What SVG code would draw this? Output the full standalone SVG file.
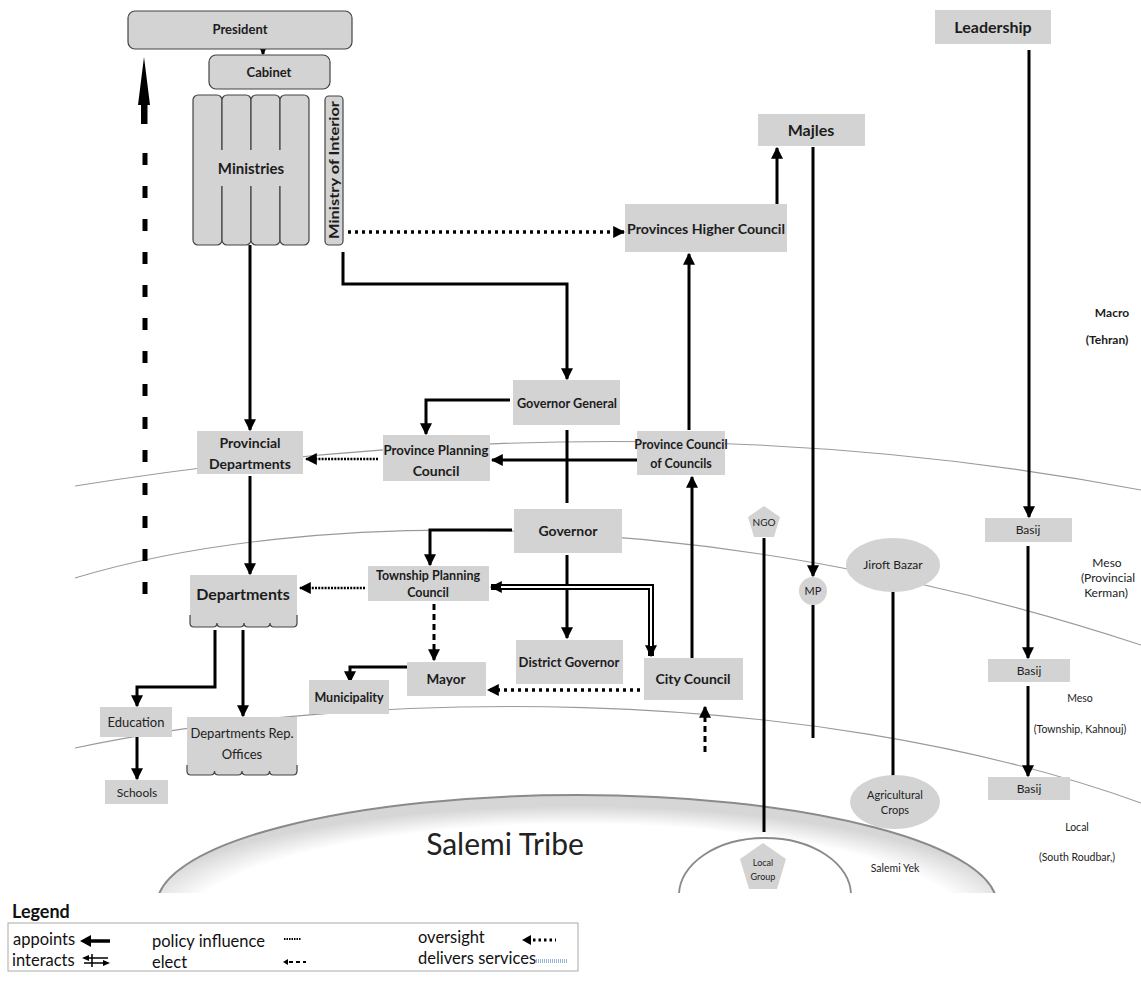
<svg xmlns="http://www.w3.org/2000/svg" width="1141" height="981" viewBox="0 0 1141 981">
  <defs>
    <marker id="ah" viewBox="0 0 10 10" refX="9" refY="5" markerWidth="12" markerHeight="12" markerUnits="userSpaceOnUse" orient="auto-start-reverse">
      <path d="M0,0 L10,5 L0,10 z" fill="#000"/>
    </marker>
    <marker id="ahs" viewBox="0 0 10 10" refX="9" refY="5" markerWidth="9" markerHeight="9" markerUnits="userSpaceOnUse" orient="auto">
      <path d="M0,0 L10,5 L0,10 z" fill="#000"/>
    </marker>
    <radialGradient id="tribe" cx="0.5" cy="0.6" r="0.55">
      <stop offset="0.85" stop-color="#ffffff"/>
      <stop offset="1" stop-color="#d6d6d6"/>
    </radialGradient>
    <style>
      .box { fill: #d3d3d3; }
      .rbox { fill: #d3d3d3; stroke: #444; stroke-width: 1.2; }
      .t { font-family: Lato, "Liberation Sans", sans-serif; font-weight: 700; fill: #1c1c1c; text-anchor: middle; }
      .r { font-family: Lato, "Liberation Sans", sans-serif; font-weight: 400; fill: #222; text-anchor: middle; }
      .lg { font-family: Lato, "Liberation Sans", sans-serif; font-weight: 400; fill: #111; font-size: 16.5px; }
      .arc { fill: none; stroke: #9a9a9a; stroke-width: 1.1; }
      .c { fill: none; stroke: #000; stroke-width: 3; }
      .dot { fill: none; stroke: #000; stroke-width: 3.5; stroke-dasharray: 3 4; }
      .pol { fill: none; stroke: #000; stroke-width: 2.5; stroke-dasharray: 2 1.2; }
      .dash { fill: none; stroke: #000; stroke-width: 3; stroke-dasharray: 6 4; }
      .tab { fill: #d3d3d3; stroke: #444; stroke-width: 1.2; }
    </style>
  </defs>

  <rect width="1141" height="981" fill="#fff"/>

  <!-- level boundaries -->
  <g id="levels">
    <path class="arc" d="M75,486 Q640,395 1141,490"/>
    <path class="arc" d="M75,578 C300,510 700,500 1141,645"/>
    <path class="arc" d="M75,748 C350,690 800,680 1141,803"/>
  </g>

  <!-- tribe base -->
  <g id="salemi-tribe">
    <clipPath id="cut"><rect x="0" y="0" width="1141" height="893"/></clipPath>
    <g clip-path="url(#cut)">
      <ellipse cx="577" cy="905" rx="420" ry="110" fill="url(#tribe)" stroke="#8a8a8a" stroke-width="2"/>
      <ellipse cx="765" cy="895" rx="86" ry="57" fill="#fff" stroke="#8a8a8a" stroke-width="1.8"/>
    </g>
    <text class="r" x="505" y="855" font-size="30" fill="#111">Salemi Tribe</text>
    <text class="r" x="895" y="872" font-size="10.5">Salemi Yek</text>
  </g>

  <!-- connectors -->
  <g id="connectors">
    <path class="c" stroke-width="2" d="M263,40 V54" marker-end="url(#ahs)"/>
    <path class="c" d="M250,245 V430" marker-end="url(#ah)"/>
    <path class="c" d="M343,252 V284 H567 V379" marker-end="url(#ah)"/>
    <path class="c" d="M510,400 H426 V434" marker-end="url(#ah)"/>
    <path class="c" d="M637,460 H492" marker-end="url(#ah)"/>
    <path class="c" d="M567,430 V503"/>
    <path class="c" d="M689,430 V254" marker-end="url(#ah)"/>
    <path class="c" d="M777,204 V148" marker-end="url(#ah)"/>
    <path class="c" stroke-width="2.5" d="M813,147 V576" marker-end="url(#ah)"/>
    <path class="c" stroke-width="2" d="M813,605 V738"/>
    <path class="c" d="M512,530 H430 V565" marker-end="url(#ah)"/>
    <path class="c" d="M567,555 V638" marker-end="url(#ah)"/>
    <path class="c" d="M692,658 V477" marker-end="url(#ah)"/>
    <path class="c" stroke-width="2.5" d="M407,667 H350 V682" marker-end="url(#ah)"/>
    <path class="c" d="M250,476 V574" marker-end="url(#ah)"/>
    <path class="c" d="M215,630 V687 H137 V706" marker-end="url(#ah)"/>
    <path class="c" d="M243,630 V716" marker-end="url(#ah)"/>
    <path class="c" d="M137,737 V779" marker-end="url(#ah)"/>
    <path class="c" stroke-width="2.5" d="M1029,50 V517" marker-end="url(#ah)"/>
    <path class="c" stroke-width="2.5" d="M1028,546 V658" marker-end="url(#ah)"/>
    <path class="c" stroke-width="2.5" d="M1028,686 V776" marker-end="url(#ah)"/>
    <path class="c" stroke-width="2.5" d="M764,538 V832"/>
    <path class="c" stroke-width="4" d="M893,592 V782"/>
    <!-- oversight / policy / elect -->
    <path class="dot" d="M348,232 H624" marker-end="url(#ah)"/>
    <path class="pol" d="M378,459 H306" marker-end="url(#ah)"/>
    <path class="pol" d="M365,588 H300" marker-end="url(#ah)"/>
    <path class="dash" stroke-width="2.5" stroke-dasharray="4 2" d="M434,604 V660" marker-end="url(#ah)"/>
    <path class="dot" d="M640,690 H488" marker-end="url(#ah)"/>
    <path class="dash" d="M705,752 V707" marker-end="url(#ah)"/>
    <path d="M145,153 V612" fill="none" stroke="#000" stroke-width="5" stroke-dasharray="12 21"/>
    <polygon points="144,57 150,105 147.5,105 147.5,124 141,124 141,105 138,105" fill="#000"/>
    <!-- interacts: township planning council / city council -->
    <path d="M651,656 V587 H491" fill="none" stroke="#000" stroke-width="6" marker-start="url(#ah)" marker-end="url(#ah)"/>
    <path d="M651,646 V587 H501" fill="none" stroke="#fff" stroke-width="2"/>
  </g>

  <!-- national level -->
  <g id="president">
    <rect class="rbox" x="128" y="11" width="224" height="38" rx="7"/>
    <text class="t" x="240" y="34" font-size="13">President</text>
  </g>
  <g id="cabinet">
    <rect class="rbox" x="209" y="55" width="121" height="34" rx="7"/>
    <text class="t" x="269" y="77" font-size="13">Cabinet</text>
  </g>
  <g id="ministries">
    <rect class="rbox" x="193" y="95" width="29" height="150" rx="5"/>
    <rect class="rbox" x="222" y="95" width="29" height="150" rx="5"/>
    <rect class="rbox" x="251" y="95" width="29" height="150" rx="5"/>
    <rect class="rbox" x="280" y="95" width="29" height="150" rx="5"/>
    <rect x="195" y="150" width="112" height="36" fill="#d3d3d3"/>
    <text class="t" x="251" y="174" font-size="15">Ministries</text>
  </g>
  <g id="ministry-of-interior">
    <rect class="rbox" x="325" y="96" width="18" height="149" rx="4"/>
    <text class="t" transform="translate(339,170) rotate(-90)" font-size="14" textLength="138" lengthAdjust="spacingAndGlyphs">Ministry of Interior</text>
  </g>
  <g id="provinces-higher-council">
    <rect class="box" x="625" y="204" width="162" height="48"/>
    <text class="t" x="706" y="234" font-size="14" textLength="158" lengthAdjust="spacingAndGlyphs">Provinces Higher Council</text>
  </g>
  <g id="majles">
    <rect class="box" x="758" y="114" width="107" height="32"/>
    <text class="t" x="811" y="136" font-size="16">Majles</text>
  </g>
  <g id="leadership">
    <rect class="box" x="935" y="10" width="116" height="34"/>
    <text class="t" x="993" y="33" font-size="16">Leadership</text>
  </g>

  <!-- provincial level -->
  <g id="governor-general">
    <rect class="box" x="513" y="380" width="107" height="45"/>
    <text class="t" x="567" y="408" font-size="14" textLength="100" lengthAdjust="spacingAndGlyphs">Governor General</text>
  </g>
  <g id="province-planning-council">
    <rect class="box" x="383" y="435" width="107" height="46"/>
    <text class="t" x="436" y="455" font-size="14" textLength="105" lengthAdjust="spacingAndGlyphs">Province Planning</text>
    <text class="t" x="436" y="476" font-size="14">Council</text>
  </g>
  <g id="provincial-departments">
    <rect class="box" x="197" y="431" width="106" height="43"/>
    <text class="t" x="250" y="448" font-size="14">Provincial</text>
    <text class="t" x="250" y="469" font-size="14">Departments</text>
  </g>
  <g id="province-council-of-councils">
    <rect class="box" x="637" y="431" width="88" height="44"/>
    <text class="t" x="681" y="449" font-size="12.5">Province Council</text>
    <text class="t" x="681" y="468" font-size="12.5">of Councils</text>
  </g>

  <!-- township level -->
  <g id="governor">
    <rect class="box" x="514" y="509" width="108" height="44"/>
    <text class="t" x="568" y="536" font-size="14">Governor</text>
  </g>
  <g id="township-planning-council">
    <rect class="box" x="368" y="566" width="121" height="35"/>
    <text class="t" x="428" y="580" font-size="12.5">Township Planning</text>
    <text class="t" x="428" y="597" font-size="12.5">Council</text>
  </g>
  <g id="departments">
    <rect class="box" x="190" y="575" width="107" height="43"/>
    <path class="tab" d="M190,615 v8 q0,4 4,4 h19 q4,0 4,-4 q0,4 4,4 h19 q4,0 4,-4 q0,4 4,4 h18 q4,0 4,-4 q0,4 4,4 h19 q4,0 4,-4 v-8"/>
    <rect x="191" y="612" width="105" height="10" fill="#d3d3d3"/>
    <text class="t" x="243" y="600" font-size="16">Departments</text>
  </g>
  <g id="district-governor">
    <rect class="box" x="516" y="640" width="107" height="44"/>
    <text class="t" x="569" y="667" font-size="13">District Governor</text>
  </g>
  <g id="city-council">
    <rect class="box" x="644" y="658" width="99" height="42"/>
    <text class="t" x="693" y="684" font-size="14">City Council</text>
  </g>
  <g id="mayor">
    <rect class="box" x="407" y="662" width="79" height="34"/>
    <text class="t" x="446" y="684" font-size="13.5">Mayor</text>
  </g>
  <g id="municipality">
    <rect class="box" x="309" y="680" width="80" height="34"/>
    <text class="t" x="349" y="702" font-size="12.5">Municipality</text>
  </g>

  <!-- local level -->
  <g id="education">
    <rect class="box" x="100" y="707" width="72" height="30"/>
    <text class="r" x="136" y="727" font-size="13">Education</text>
  </g>
  <g id="schools">
    <rect class="box" x="105" y="780" width="63" height="24"/>
    <text class="r" x="137" y="797" font-size="12">Schools</text>
  </g>
  <g id="departments-rep-offices">
    <rect class="box" x="187" y="717" width="110" height="52"/>
    <path class="tab" d="M187,765 v6 q0,4 4,4 h19.5 q4,0 4,-4 q0,4 4,4 h19.5 q4,0 4,-4 q0,4 4,4 h19.5 q4,0 4,-4 q0,4 4,4 h19.5 q4,0 4,-4 v-6"/>
    <rect x="188" y="762" width="108" height="9" fill="#d3d3d3"/>
    <text class="r" x="242" y="738" font-size="13">Departments Rep.</text>
    <text class="r" x="242" y="759" font-size="13">Offices</text>
  </g>

  <!-- basij chain -->
  <g id="basij-provincial">
    <rect class="box" x="985" y="518" width="87" height="24"/>
    <text class="r" x="1028" y="534" font-size="12">Basij</text>
  </g>
  <g id="basij-township">
    <rect class="box" x="988" y="659" width="82" height="23"/>
    <text class="r" x="1029" y="675" font-size="12">Basij</text>
  </g>
  <g id="basij-local">
    <rect class="box" x="988" y="777" width="82" height="23"/>
    <text class="r" x="1029" y="793" font-size="12">Basij</text>
  </g>

  <!-- informal actors -->
  <g id="ngo">
    <polygon class="box" points="764,506 780,517 774,537 754,537 748,517"/>
    <text class="r" x="764" y="526" font-size="10">NGO</text>
  </g>
  <g id="mp">
    <circle class="box" cx="813" cy="591" r="14"/>
    <text class="r" x="813" y="595" font-size="11">MP</text>
  </g>
  <g id="jiroft-bazar">
    <ellipse class="box" cx="893" cy="565" rx="47" ry="27"/>
    <text class="r" x="893" y="569" font-size="12">Jiroft Bazar</text>
  </g>
  <g id="agricultural-crops">
    <ellipse class="box" cx="895" cy="802" rx="45" ry="27"/>
    <text class="r" x="895" y="799" font-size="11">Agricultural</text>
    <text class="r" x="895" y="814" font-size="11">Crops</text>
  </g>
  <g id="local-group">
    <polygon class="box" points="763,843 786,859 777,889 749,889 740,859"/>
    <text class="r" x="763" y="866" font-size="9">Local</text>
    <text class="r" x="763" y="880" font-size="9">Group</text>
  </g>

  <!-- level captions -->
  <g id="captions">
    <text class="t" x="1112" y="317" font-size="12">Macro</text>
    <text class="t" x="1107" y="344" font-size="12">(Tehran)</text>
    <text class="r" x="1107" y="567" font-size="12">Meso</text>
    <text class="r" x="1108" y="582" font-size="12">(Provincial</text>
    <text class="r" x="1106" y="597" font-size="12">Kerman)</text>
    <text class="r" x="1080" y="702" font-size="10.5">Meso</text>
    <text class="r" x="1080" y="733" font-size="10.5">(Township, Kahnouj)</text>
    <text class="r" x="1077" y="831" font-size="10.5">Local</text>
    <text class="r" x="1077" y="861" font-size="10.5">(South Roudbar,)</text>
  </g>

  <!-- legend -->
  <g id="legend">
    <text x="12" y="918" font-family="Lato, 'Liberation Sans', sans-serif" font-weight="700" font-size="18" fill="#111">Legend</text>
    <rect x="8" y="923" width="570" height="48" fill="none" stroke="#aaa" stroke-width="1"/>
    <text class="lg" x="13" y="945">appoints</text>
    <path d="M110,941 H84" stroke="#000" stroke-width="3.5"/>
    <path d="M80,941 L91,935 L91,947 z" fill="#000"/>
    <text class="lg" x="12" y="966">interacts</text>
    <path d="M84,958 H108 M84,963 H108 M92,954 V967" stroke="#000" stroke-width="1.5"/>
    <path d="M82,958 L89,955 L89,961 z M110,963 L103,960 L103,966 z" fill="#000"/>
    <text class="lg" x="152" y="947">policy influence</text>
    <path d="M284,939 H301" stroke="#000" stroke-width="2" stroke-dasharray="1.5 1"/>
    <text class="lg" x="152" y="968">elect</text>
    <path d="M283,962 L288,959 L288,965 z" fill="#000"/>
    <path d="M289,962 H306" stroke="#000" stroke-width="2" stroke-dasharray="4 3"/>
    <text class="lg" x="418" y="943">oversight</text>
    <path d="M522,940 L531,935 L531,945 z" fill="#000"/>
    <path d="M533,940 H556" stroke="#000" stroke-width="3" stroke-dasharray="2.5 3"/>
    <text class="lg" x="418" y="964">delivers services</text>
    <path d="M536,961 H568" stroke="#9bb6dc" stroke-width="4" stroke-dasharray="1 1"/>
  </g>
</svg>
